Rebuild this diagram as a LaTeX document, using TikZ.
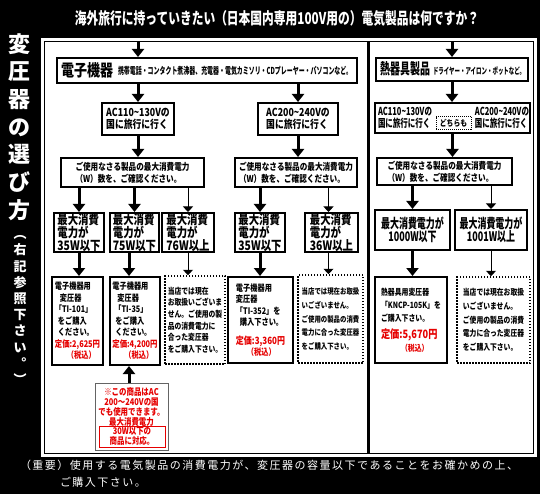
\documentclass[tikz,border=0pt]{standalone}
\usepackage{fontspec}
\usepackage{graphicx}
\usetikzlibrary{arrows.meta}
\newfontfamily\jpb{Noto Sans CJK JP}[FakeStretch=0.8]
\newfontfamily\jpc{Noto Sans CJK JP}[FakeStretch=0.68]
\newfontfamily\jpr{Noto Sans CJK JP}[LetterSpace=13.6]
\newfontfamily\jpv{Noto Sans CJK JP}
\newcommand{\fsz}[2]{\fontsize{#1}{#2}\selectfont}
\definecolor{pricered}{RGB}{230,0,0}
\definecolor{notegray}{RGB}{100,100,100}
\begin{document}
\begin{tikzpicture}[x=1pt,y=-1pt,
 box/.style={draw=black,line width=2pt,fill=white,inner sep=0pt},
 dbox/.style={draw=black,line width=1.5pt,dash pattern=on 1.5pt off 1.5pt,fill=white,inner sep=0pt},
 lbl/.style={inner sep=0pt,outer sep=0pt},
 bigarrow/.style={line width=3pt,-{Triangle[width=12pt,length=8pt]}},
 thinarrow/.style={line width=1pt,-{Triangle[width=10pt,length=5.5pt]}},
 acT/.style={align=left,font=\jpb\bfseries\fsz{11}{12.5}},
 useT/.style={align=left,font=\jpb\bfseries\fsz{9.5}{12}},
 wT/.style={align=left,font=\jpb\bfseries\fsz{13}{12.6}},
 kT/.style={align=center,font=\jpc\bfseries\fsz{13.2}{13}},
 prodT/.style={align=left,font=\jpb\bfseries\fsz{9}{11.5}},
 dotT/.style={align=left,font=\jpb\bfseries\fsz{8.5}{11.6}},
 noteT/.style={align=center,text=pricered,font=\jpb\bfseries\fsz{9.3}{10}},
]
\fill[black] (0,0) rectangle (540,494);
\useasboundingbox (0,0) rectangle (540,494);
% panels
\fill[white] (41,38) rectangle (537,457);
\draw[line width=1.3pt] (44.5,41.5) rectangle (533.5,453.5);
\draw[line width=3pt] (368,41.5) -- (368,453.5);

% title
\node[lbl,text=white] (title) at (277,18) {\resizebox{404pt}{14pt}{\jpv\bfseries 海外旅行に持っていきたい（日本国内専用100V用の）電気製品は何ですか？}};

% vertical title
\node[lbl,text=white,align=center,font=\jpv\bfseries\fsz{22}{27.7}] (vtitle) at (20,127) {変\\圧\\器\\の\\選\\び\\方};
\node[lbl,text=white,align=center,font=\jpv\bfseries\fsz{13}{16.2}] (vsub) at (20,310) {︵\\右\\記\\参\\照\\下\\さ\\い\\︒\\︶};

% ---------- left panel ----------
\node[box,minimum width=300pt,minimum height=25pt] (denshi) at (207,70.5) {};
\node[lbl,anchor=west] (denshiT) at (61,70) {\resizebox{52pt}{14pt}{\jpv\bfseries 電子機器}};
\node[lbl,anchor=west] (denshiL) at (118,71) {\resizebox{234pt}{8.3pt}{\jpv\bfseries 携帯電話・コンタクト煮沸器、充電器・電気カミソリ・CDプレーヤー・パソコンなど。}};

\node[box,acT,minimum width=72pt,minimum height=32pt] (ac1) at (138,119) {AC110\textasciitilde130Vの\\国に旅行に行く};
\node[box,acT,minimum width=80pt,minimum height=32pt] (ac2) at (298,119) {AC200\textasciitilde240Vの\\国に旅行に行く};

\node[box,useT,minimum width=143pt,minimum height=29pt] (use1) at (132.5,172.5) {ご使用なさる製品の最大消費電力\\（W）数を、ご確認ください。};
\node[box,useT,minimum width=122pt,minimum height=29pt] (use2) at (296,172.5) {ご使用なさる製品の最大消費電力\\（W）数を、ご確認ください。};

\node[box,wT,minimum width=50pt,minimum height=39pt] (w1) at (79,232.5) {最大消費\\電力が\\35W以下};
\node[box,wT,minimum width=49pt,minimum height=39pt] (w2) at (134.5,232.5) {最大消費\\電力が\\75W以下};
\node[box,wT,minimum width=52pt,minimum height=39pt] (w3) at (188,232.5) {最大消費\\電力が\\76W以上};
\node[box,wT,minimum width=50pt,minimum height=39pt] (w4) at (260,232.5) {最大消費\\電力が\\35W以下};
\node[box,wT,minimum width=53pt,minimum height=39pt] (w5) at (331.5,232.5) {最大消費\\電力が\\36W以上};

\node[box,prodT,minimum width=51pt,minimum height=88pt] (p1) at (77.5,321) {電子機器用\\\hspace{5pt}変圧器\\「TI-101」\\\hspace{3pt}をご購入\\\hspace{3pt}ください。\\{\fsz{9.2}{11.5}\color{pricered}定価:2,625円}\\\hspace{12pt}{\color{pricered}（税込）}};
\node[box,prodT,minimum width=50pt,minimum height=88pt] (p2) at (135,321) {電子機器用\\\hspace{5pt}変圧器\\\hspace{2pt}「TI-35」\\\hspace{3pt}をご購入\\\hspace{3pt}ください。\\{\fsz{9.2}{11.5}\color{pricered}定価:4,200円}\\\hspace{12pt}{\color{pricered}（税込）}};
\node[dbox,dotT,minimum width=60pt,minimum height=88pt] (p3) at (195,320) {当店では現在\\お取扱いございま\\せん。ご使用の製\\品の消費電力に\\合った変圧器\\をご購入下さい。};
\node[box,prodT,minimum width=65pt,minimum height=86pt] (p4) at (260.5,320) {電子機器用\\変圧器\\「TI-352」を\\\hspace{4pt}購入下さい。\\[7pt]{\fsz{10}{11.5}\color{pricered}定価:3,360円}\\\hspace{11pt}{\color{pricered}（税込）}};
\node[dbox,dotT,font=\jpb\bfseries\fsz{8}{13.7},minimum width=65pt,minimum height=88pt] (p5) at (330.5,319) {当店では現在お取扱\\いございません。\\ご使用の製品の消費\\電力に合った変圧器\\をご購入下さい。};

\node[draw=notegray,line width=1pt,fill=white,inner sep=0pt,minimum width=73pt,minimum height=67pt] (note) at (131.5,416.5) {};
\node[lbl,noteT] (noteTxt) at (131.5,407) {※この商品はAC\\200～240Vの国\\でも使用できます。\\最大消費電力};
\node[draw=pricered,line width=0.8pt,inner sep=0pt,noteT,minimum width=66pt,minimum height=21pt] (noteBox) at (132,436.5) {30W以下の\\商品に対応。};

% ---------- right panel ----------
\node[box,minimum width=152pt,minimum height=23pt] (heat) at (452,69.5) {};
\node[lbl,anchor=west] (heatT) at (380,69) {\resizebox{50pt}{13pt}{\jpv\bfseries 熱器具製品}};
\node[lbl,anchor=west] (heatL) at (433,71) {\resizebox{92pt}{7.8pt}{\jpv\bfseries ドライヤー・アイロン・ポットなど。}};

\node[box,minimum width=155pt,minimum height=30pt] (ac3) at (452.5,118) {};
\node[lbl,acT,font=\jpc\bfseries\fsz{11}{12.5},anchor=west] (ac3a) at (378,118) {AC110\textasciitilde130Vの\\国に旅行に行く};
\node[dbox,line width=1pt,dash pattern=on 1pt off 1pt,minimum width=35pt,minimum height=12.5pt,font=\jpb\bfseries\fsz{8.5}{9}] (both) at (453.5,123) {どちらも};
\node[lbl,acT,font=\jpc\bfseries\fsz{11}{12.5},anchor=east] (ac3b) at (529,118) {AC200\textasciitilde240Vの\\国に旅行に行く};

\node[box,useT,minimum width=135pt,minimum height=27pt] (use3) at (444.5,171.5) {ご使用なさる製品の最大消費電力\\（W）数を、ご確認ください。};

\node[box,kT,minimum width=75pt,minimum height=40pt] (k1) at (412.5,230) {最大消費電力が\\1000W以下};
\node[box,kT,minimum width=72pt,minimum height=40pt] (k2) at (491,230) {最大消費電力が\\1001W以上};

\node[box,prodT,font=\jpb\bfseries\fsz{8.6}{13},minimum width=72pt,minimum height=86pt] (p6) at (411,320) {熱器具用変圧器\\「KNCP-105K」を\\ご購入下さい。\\[4pt]{\fsz{11.5}{13}\color{pricered}定価:5,670円}\\\hspace{20pt}{\color{pricered}（税込）}};
\node[dbox,dotT,font=\jpb\bfseries\fsz{8.5}{13.7},minimum width=73pt,minimum height=86pt] (p7) at (493.5,320) {当店では現在お取扱\\いございません。\\ご使用の製品の消費\\電力に合った変圧器\\をご購入下さい。};

% ---------- arrows ----------
\coordinate (tA) at (138,42);
\coordinate (tB) at (452,42);
\draw[bigarrow] (tA) -- (tA |- denshi.north);
\draw[bigarrow] (tB) -- (tB |- heat.north);
\draw[bigarrow] (ac1.north |- denshi.south) -- (ac1.north);
\draw[bigarrow] (ac2.north |- denshi.south) -- (ac2.north);
\draw[bigarrow] (ac1.south) -- (ac1.south |- use1.north);
\draw[bigarrow] (ac2.south) -- (ac2.south |- use2.north);
\draw[bigarrow] (w1.north |- use1.south) -- (w1.north);
\draw[bigarrow] (w2.north |- use1.south) -- (w2.north);
\draw[thinarrow] (w3.north |- use1.south) -- (w3.north);
\draw[bigarrow] (w4.north |- use2.south) -- (w4.north);
\draw[thinarrow] ([xshift=-3pt]w5.north |- use2.south) -- ([xshift=-3pt]w5.north);
\draw[bigarrow] (w1.south) -- (w1.south |- p1.north);
\draw[bigarrow] ([xshift=-5.5pt]w2.south) -- ([xshift=-5.5pt]w2.south |- p2.north);
\draw[thinarrow] (w3.south) -- (w3.south |- p3.north);
\draw[bigarrow] (w4.south) -- (w4.south |- p4.north);
\draw[thinarrow] ([xshift=-3pt]w5.south) -- ([xshift=-3pt]w5.south |- p5.north);
\draw[bigarrow] ([xshift=-2.5pt]note.north) -- ([xshift=-2.5pt]note.north |- p2.south);
\draw[bigarrow] (heat.south) -- (heat.south |- ac3.north);
\draw[bigarrow] (ac3.south) -- (ac3.south |- use3.north);
\draw[bigarrow] (k1.north |- use3.south) -- (k1.north);
\draw[thinarrow] (k2.north |- use3.south) -- (k2.north);
\draw[bigarrow] (k1.south) -- (k1.south |- p6.north);
\draw[thinarrow] (k2.south) -- (k2.south |- p7.north);

% bottom text
\node[lbl,anchor=west,text=white,font=\jpr\fsz{11}{12}] (imp1) at (20,465) {（重要）使用する電気製品の消費電力が、変圧器の容量以下であることをお確かめの上、};
\node[lbl,anchor=west,text=white,font=\jpr\fsz{11}{12}] (imp2) at (60,482) {ご購入下さい。};
\end{tikzpicture}
\end{document}
